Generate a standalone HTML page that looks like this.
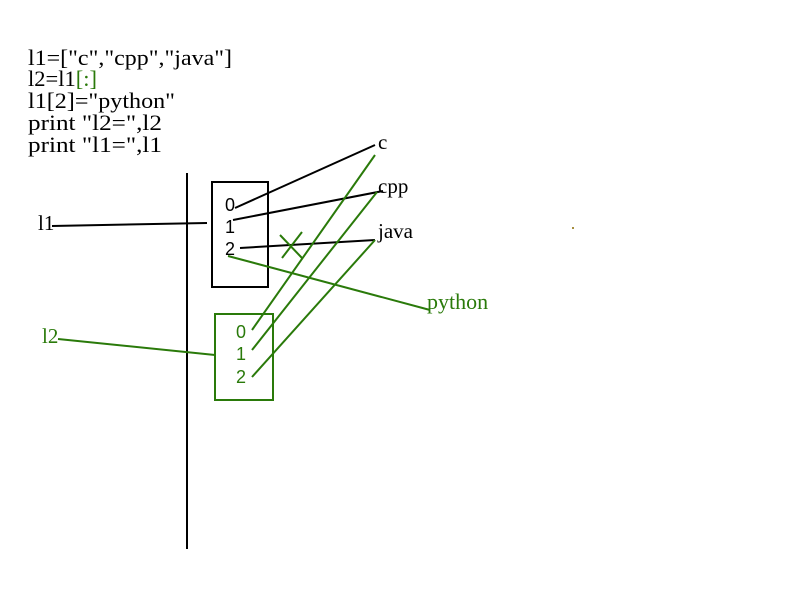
<!DOCTYPE html>
<html><head><style>body{margin:0;background:#fff}svg{display:block}</style></head><body>
<svg width="800" height="600" xmlns="http://www.w3.org/2000/svg">
<g font-family="Liberation Serif, serif" font-size="22" fill="#000">
<text x="28" y="65" textLength="204" lengthAdjust="spacingAndGlyphs">l1=["c","cpp","java"]</text>
<text x="28" y="86" textLength="69" lengthAdjust="spacingAndGlyphs">l2=l1<tspan fill="#2a7a0a">[:]</tspan></text>
<text x="28" y="108" textLength="147" lengthAdjust="spacingAndGlyphs">l1[2]="python"</text>
<text x="28" y="130" textLength="134" lengthAdjust="spacingAndGlyphs">print  "l2=",l2</text>
<text x="28" y="152" textLength="134" lengthAdjust="spacingAndGlyphs">print  "l1=",l1</text>
<text x="38" y="230" font-size="21">l1</text>
<text x="378" y="149" font-size="21">c</text>
<text x="378" y="193" font-size="21">cpp</text>
<text x="378" y="238" font-size="21">java</text>
<text x="42" y="343" font-size="21" fill="#2a7a0a">l2</text>
<text x="427" y="309" fill="#2a7a0a">python</text>
</g>
<g font-family="Liberation Sans, sans-serif" font-size="18">
<text x="225" y="211">0</text><text x="225" y="233">1</text><text x="225" y="255">2</text>
<g fill="#2a7a0a"><text x="236" y="338">0</text><text x="236" y="360">1</text><text x="236" y="383">2</text></g>
</g>
<g stroke="#000" stroke-width="2" fill="none">
<line x1="187" y1="173" x2="187" y2="549"/>
<rect x="212" y="182" width="56" height="105"/>
<line x1="52" y1="226" x2="207" y2="223"/>
<line x1="235" y1="208" x2="375" y2="145"/>
<line x1="233" y1="220" x2="383" y2="191"/>
<line x1="240" y1="248" x2="375" y2="240"/>
</g>
<g stroke="#2a7a0a" stroke-width="2" fill="none">
<rect x="215" y="314" width="58" height="86"/>
<line x1="58" y1="339" x2="215" y2="355"/>
<line x1="252" y1="330" x2="375" y2="155"/>
<line x1="252" y1="350" x2="377" y2="192"/>
<line x1="252" y1="377" x2="375" y2="240"/>
<line x1="228" y1="256" x2="430" y2="310"/>
<line x1="280" y1="235" x2="302" y2="258"/>
<line x1="282" y1="258" x2="302" y2="232"/>
</g>
<circle cx="573" cy="228" r="1" fill="#8a6a00"/>
</svg>
</body></html>
